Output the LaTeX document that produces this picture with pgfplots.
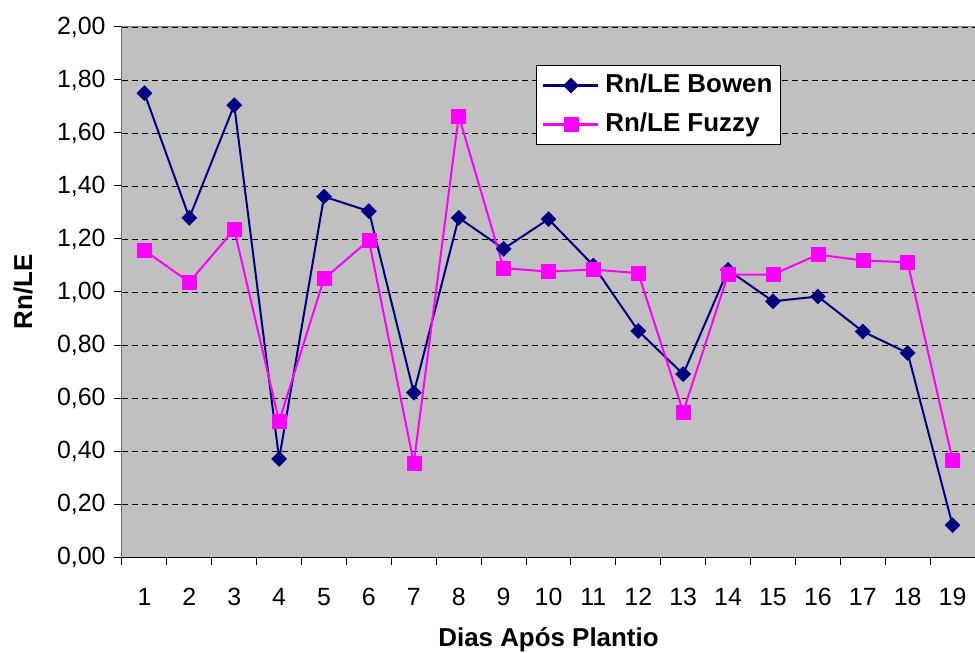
\documentclass[border=0pt]{standalone}
\usepackage{pgfplots}
\pgfplotsset{compat=1.18}
\usepackage{fontspec}
\setmainfont{Liberation Sans}
\definecolor{bowen}{RGB}{0,0,128}
\definecolor{fuzzy}{RGB}{255,0,255}
\definecolor{plotgray}{RGB}{192,192,192}
\definecolor{bordergray}{RGB}{128,128,128}
\begin{document}
\begin{tikzpicture}
\begin{axis}[
  scale only axis, width=853bp, height=530bp,
  xmin=0.5, xmax=19.5, ymin=0, ymax=2,
  axis background/.style={fill=plotgray},
  axis line style={bordergray, line width=1bp},
  /pgf/number format/assume math mode=true,
  xtick={1,...,19},
  minor xtick={0.5,1.5,...,19.5},
  ytick={0,0.2,0.4,0.6,0.8,1,1.2,1.4,1.6,1.8,2},
  tick pos=left,
  tick align=outside,
  major tick length=8bp, minor tick length=8bp,
  tick style={black, line width=1bp},
  major x tick style={draw=none},
  ymajorgrids,
  major grid style={black, line width=0.8bp, dash pattern=on 6bp off 4bp},
  ticklabel style={font=\fontsize{25}{30}\selectfont},
  yticklabel style={/pgf/number format/fixed, /pgf/number format/fixed zerofill, /pgf/number format/precision=2, /pgf/number format/use comma, xshift=-5bp},
  xticklabel style={yshift=-40bp, anchor=base},
  xlabel={Dias Após Plantio},
  xlabel style={font=\bfseries\fontsize{26}{30}\selectfont, at={(axis description cs:0.5,-0.1698)}, anchor=base},
  ylabel={Rn/LE},
  ylabel style={font=\bfseries\fontsize{26}{30}\selectfont, at={(axis description cs:-0.1055,0.5)}, anchor=base, rotate=0},
  legend image code/.code={\draw[mark repeat=2,mark phase=2,#1] plot coordinates {(0bp,0bp) (27.5bp,0bp) (55bp,0bp)};},
  legend style={at={(0.4853,0.9283)}, anchor=north west, draw=black, line width=1bp, fill=white,
    font=\bfseries\fontsize{26}{30}\selectfont, inner xsep=6bp, inner ysep=6bp, row sep=11bp,
    nodes={inner sep=2bp, text height=19bp, text depth=5bp}},
  legend cell align=left,
]
\draw[black, line width=1bp] (rel axis cs:0,1) -- (rel axis cs:0,0) -- (rel axis cs:1,0);
\addplot[color=bowen, line width=2bp, mark=square*, mark size=5.3bp, mark options={solid, rotate=45, fill=bowen, line width=0.5bp}]
coordinates {
(1,1.75) (2,1.28) (3,1.705) (4,0.37) (5,1.36) (6,1.305) (7,0.62) (8,1.28) (9,1.163) (10,1.275)
(11,1.10) (12,0.853) (13,0.69) (14,1.083) (15,0.965) (16,0.983) (17,0.851) (18,0.77) (19,0.12)
};
\addlegendentry{\hspace{4bp}Rn/LE Bowen\hspace{3bp}}
\addplot[color=fuzzy, line width=2bp, mark=square*, mark size=7bp, mark options={solid, fill=fuzzy, line width=0.5bp}]
coordinates {
(1,1.157) (2,1.037) (3,1.236) (4,0.512) (5,1.05) (6,1.195) (7,0.354) (8,1.665) (9,1.09) (10,1.077)
(11,1.085) (12,1.071) (13,0.548) (14,1.066) (15,1.066) (16,1.141) (17,1.119) (18,1.112) (19,0.366)
};
\addlegendentry{\hspace{4bp}Rn/LE Fuzzy}
\coordinate (sw) at (rel axis cs:0,0);
\coordinate (ne) at (rel axis cs:1,1);
\end{axis}
\pgfresetboundingbox
\path ([shift={(-122bp,-96bp)}]sw) rectangle ([shift={(0bp,27bp)}]ne);
\end{tikzpicture}
\end{document}
